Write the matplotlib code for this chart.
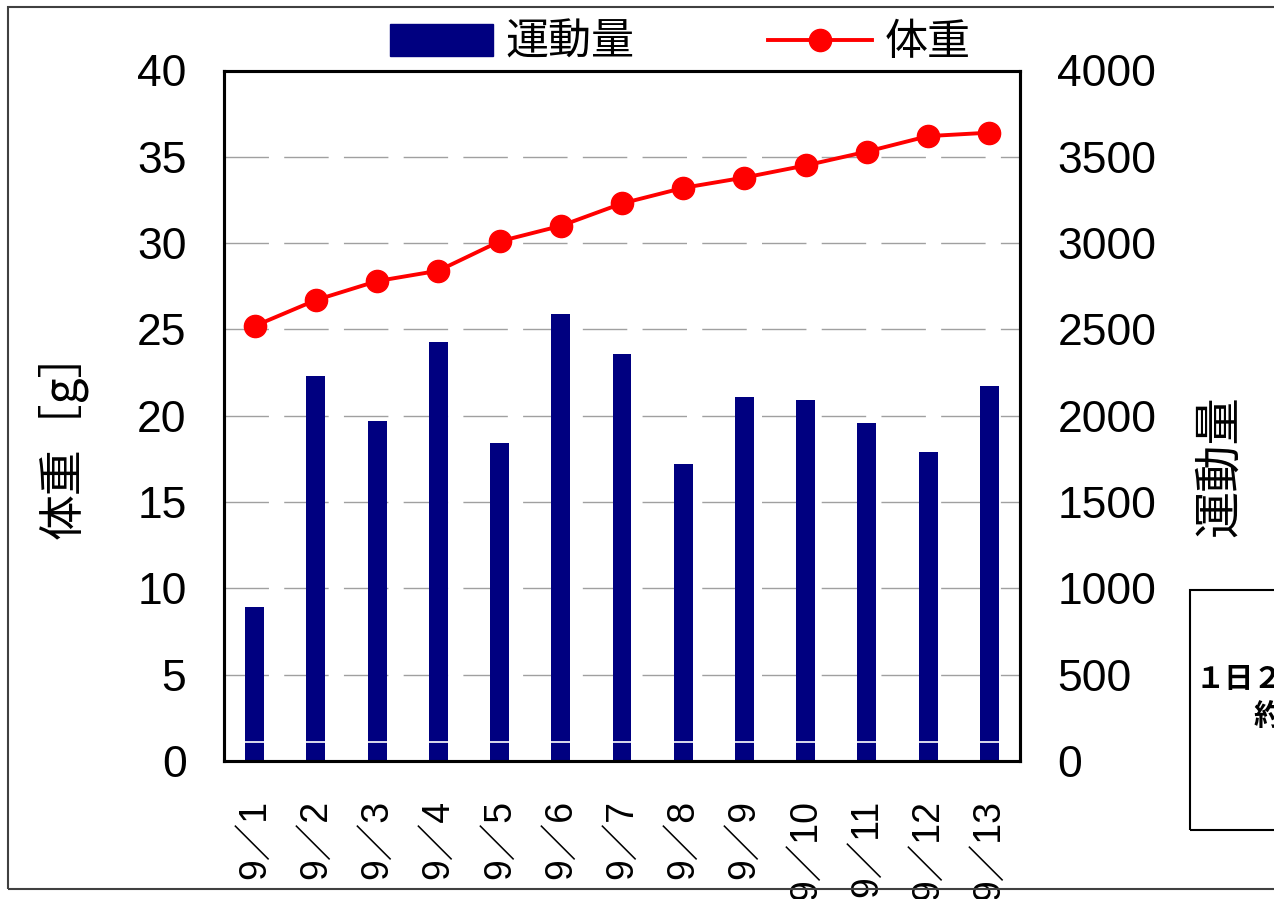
import matplotlib
matplotlib.use('Agg')
import matplotlib.pyplot as plt
from matplotlib.patches import Rectangle
from matplotlib.lines import Line2D

# 日付ごとのデータ
dates = ['9／1', '9／2', '9／3', '9／4', '9／5', '9／6', '9／7',
         '9／8', '9／9', '9／10', '9／11', '9／12', '9／13']
weight = [25.2, 26.7, 27.8, 28.4, 30.1, 31.0, 32.3, 33.2, 33.8, 34.5, 35.3, 36.2, 36.4]
exercise = [890, 2230, 1970, 2430, 1840, 2590, 2360, 1720, 2110, 2090, 1960, 1790, 2170]
exercise_base = 110  # 下段の区切り

num_font = ['Liberation Sans', 'Noto Sans CJK JP']
jp_font = ['Noto Sans CJK JP', 'DejaVu Sans']

W, H = 1274, 899
fig = plt.figure(figsize=(W / 100, H / 100), dpi=100)

# 外枠
fig.patches.append(Rectangle((8 / W, 1 - 889 / H), 1.2, (889 - 7) / H,
                             transform=fig.transFigure, fill=False,
                             edgecolor='#404040', linewidth=1.5))

ax = fig.add_axes([224 / W, 1 - 761 / H, (1020 - 224) / W, (761 - 70.5) / H])
ax2 = ax.twinx()
ax.set_zorder(ax2.get_zorder() + 1)
ax.patch.set_visible(False)

x = list(range(len(dates)))

# 運動量（棒）
ax2.bar(x, exercise, width=0.31, color='#000080', zorder=2)
ax2.hlines([exercise_base] * len(x), [i - 0.155 for i in x], [i + 0.155 for i in x],
           colors='white', linewidth=1.2, zorder=3)
ax2.set_ylim(0, 4000)
ax2.set_yticks(range(0, 4001, 500))
for yv in range(500, 4000, 500):
    ax2.axhline(yv, color='#a0a0a0', linewidth=1.0, dashes=(32, 11), zorder=1)

# 体重（折れ線）
ax.plot(x, weight, color='red', linewidth=2.8, marker='o', markersize=16, zorder=4)
ax.set_ylim(0, 40)
ax.set_yticks(range(0, 41, 5))
ax.set_xlim(-0.5, len(x) - 0.5)
ax.set_xticks(x)
ax.set_xticklabels(dates, rotation=90, family=num_font, fontsize=27, va='top')

for a in (ax, ax2):
    a.tick_params(length=0)
    for s in a.spines.values():
        s.set_linewidth(2.2)
        s.set_color('black')
ax.tick_params(axis='x', pad=28)
ax.tick_params(axis='y', pad=27)
ax2.tick_params(axis='y', pad=27)
for lab in ax.get_yticklabels() + ax2.get_yticklabels():
    lab.set_family(num_font)
    lab.set_fontsize(32)

ax.set_ylabel('体重［g］', family=jp_font, fontsize=33)
ax.yaxis.set_label_coords(-0.171, 0.4736)
ax2.set_ylabel('運動量', family=jp_font, fontsize=34)
ax2.yaxis.set_label_coords(1.2198, 0.427)

# 凡例
handles = [Rectangle((0, 0), 1, 1, color='#000080'),
           Line2D([], [], color='red', linewidth=2.8, marker='o', markersize=16)]
fig.legend(handles, ['運動量', '体重'], loc='center', bbox_to_anchor=(680 / W, 1 - 43 / H),
           ncol=2, frameon=False, prop={'family': jp_font, 'size': 31},
           handlelength=2.4, handleheight=0.75, columnspacing=3.1, handletextpad=0.3,
           borderpad=0.2)

# 注記ボックス
fig.patches.append(Rectangle((1190 / W, 1 - 830 / H), 0.2, (830 - 590) / H,
                             transform=fig.transFigure, fill=False,
                             edgecolor='black', linewidth=1.5))
fig.text(1196 / W, 1 - 679 / H, '１日２万回転', family=jp_font, fontsize=21,
         fontweight='bold', va='center', ha='left')
fig.text(1254 / W, 1 - 716 / H, '約１０ｋｍ', family=jp_font, fontsize=21,
         fontweight='bold', va='center', ha='left')

fig.savefig('out.png', dpi=100)
